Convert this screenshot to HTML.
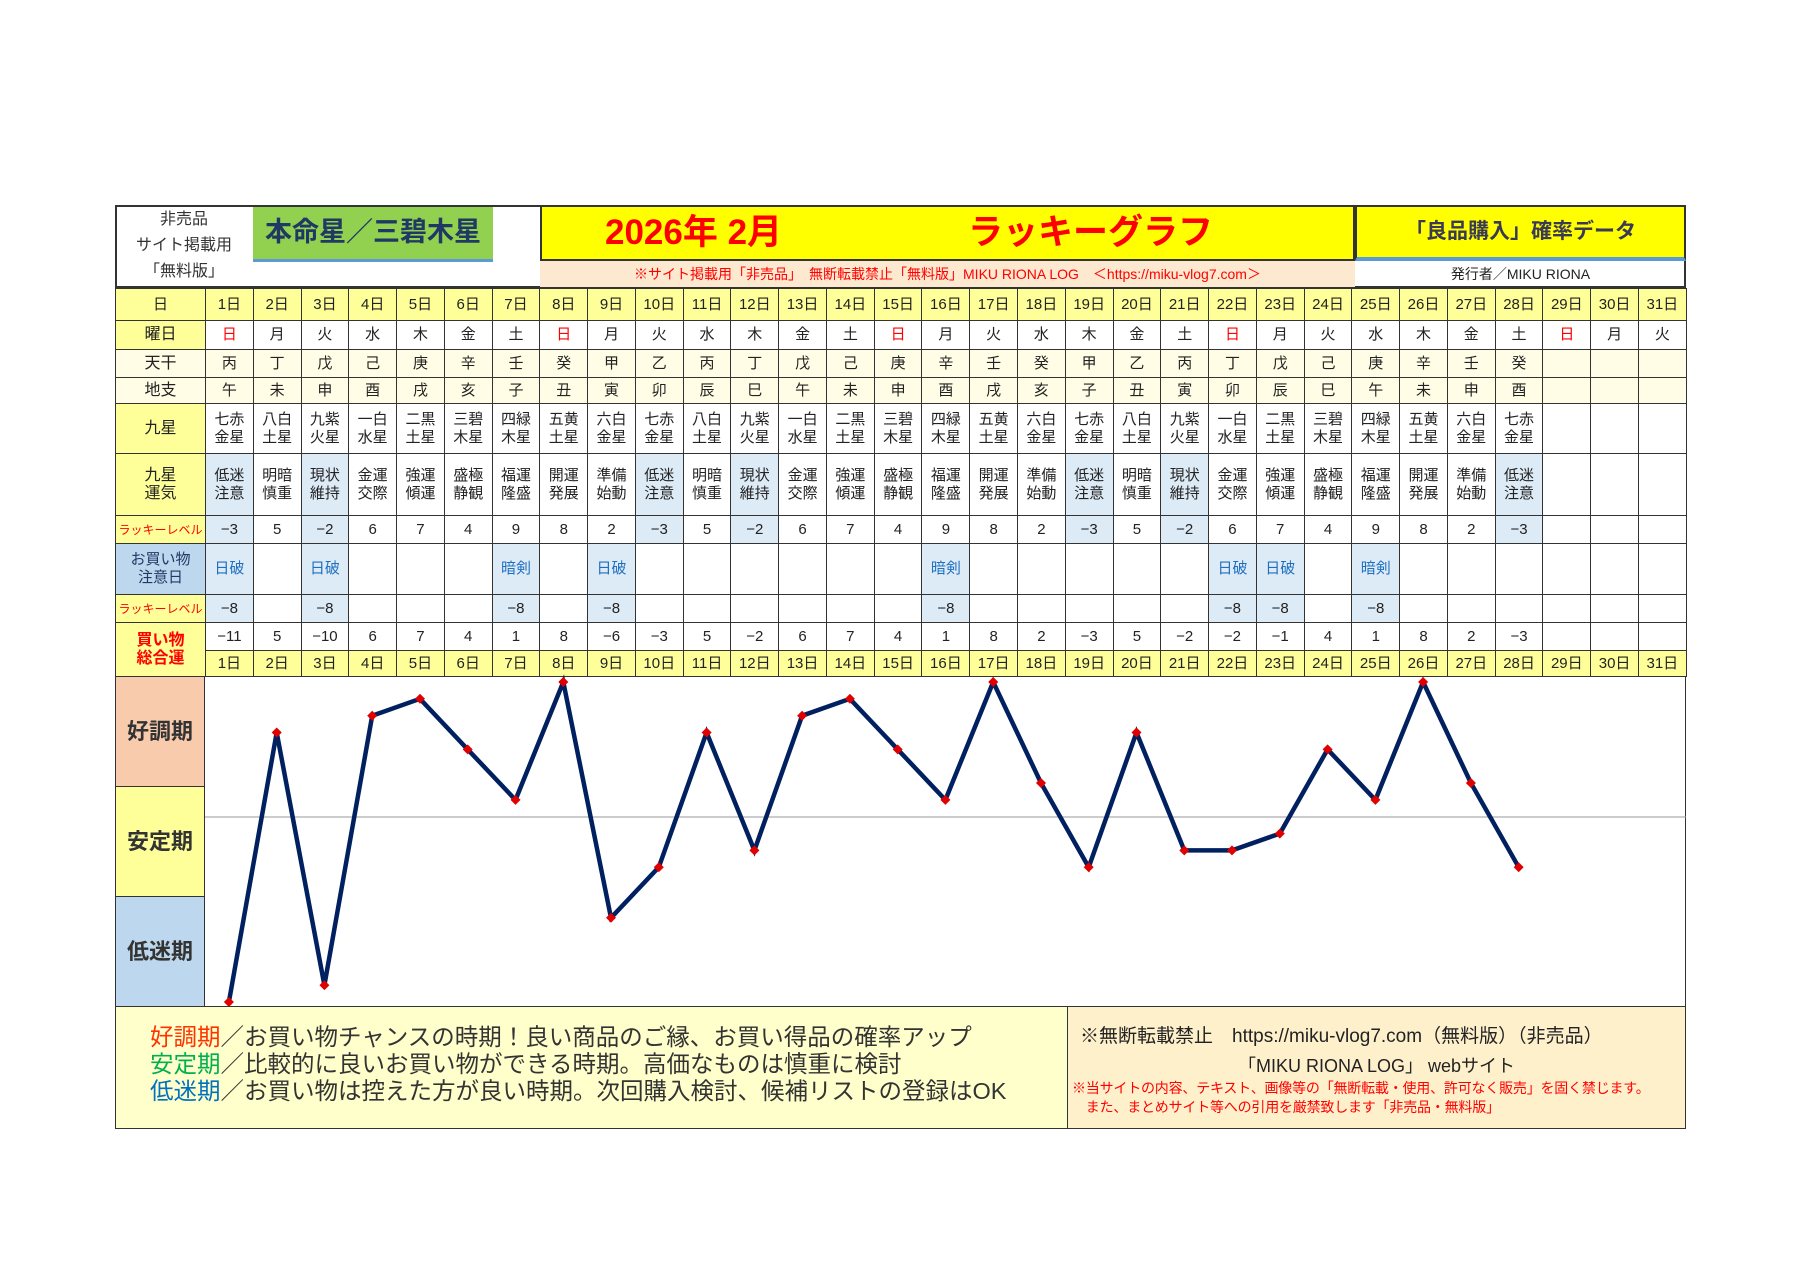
<!DOCTYPE html>
<html><head><meta charset="utf-8"><style>
*{box-sizing:border-box;margin:0;padding:0}
body{width:1800px;height:1272px;background:#fff;position:relative;overflow:hidden;font-family:"Liberation Sans","Noto Sans CJK JP",sans-serif;color:#222}
.a{position:absolute}
table{position:absolute;left:115px;top:288px;width:1571px;border-collapse:collapse;table-layout:fixed}
td{border:1px solid #333;text-align:center;vertical-align:middle;font-size:15px;line-height:18px;padding:0;overflow:hidden;white-space:nowrap}
td.l{background:#ffff99;font-size:16px}
.y td{background:#ffff99}
.y td{font-size:15px}
.p td{background:#fffde6}
td.b{background:#ddebf7}
.r{color:#f00}
.bl{color:#1f6fc0}
td.ll{color:#f00;font-size:12px;background:#ffff99}
</style></head><body>
<!-- header -->
<div class="a" style="left:115px;top:205px;width:1571px;height:83px;border:2px solid #333"></div>
<div class="a" style="left:117px;top:207px;width:134px;text-align:center;font-size:16px;line-height:26px;color:#333">非売品<br>サイト掲載用<br>「無料版」</div>
<div class="a" style="left:253px;top:207px;width:240px;height:55px;background:#92d050;border-bottom:3px solid #5b9bd5;font-size:27px;font-weight:bold;color:#1f3864;text-align:center;line-height:50px">本命星／三碧木星</div>
<div class="a" style="left:540px;top:205px;width:815px;height:56px;background:#ffff00;border:2px solid #333"></div>
<div class="a" style="left:605px;top:208px;font-size:35px;font-weight:bold;color:#f00;line-height:50px">2026年 2月</div>
<div class="a" style="left:968px;top:208px;font-size:35px;font-weight:bold;color:#f00;line-height:50px">ラッキーグラフ</div>
<div class="a" style="left:1355px;top:205px;width:331px;height:56px;background:#ffff00;border:2px solid #333;border-bottom:4px solid #5b9bd5;text-align:center;font-size:21px;font-weight:bold;color:#3a3a55;line-height:50px">「良品購入」確率データ</div>
<div class="a" style="left:540px;top:261px;width:815px;height:26px;background:#fde9d0;color:#f00;font-size:14px;line-height:26px;text-align:center">※サイト掲載用「非売品」　無断転載禁止「無料版」MIKU RIONA LOG　＜https://miku-vlog7.com＞</div>
<div class="a" style="left:1355px;top:261px;width:331px;height:26px;font-size:14px;line-height:26px;text-align:center;color:#222">発行者／MIKU RIONA</div>

<table>
<colgroup><col style="width:90px"><col span="31" style="width:47.77px"></colgroup>
<tr class="y" style="height:32px"><td>日</td><td>1日</td><td>2日</td><td>3日</td><td>4日</td><td>5日</td><td>6日</td><td>7日</td><td>8日</td><td>9日</td><td>10日</td><td>11日</td><td>12日</td><td>13日</td><td>14日</td><td>15日</td><td>16日</td><td>17日</td><td>18日</td><td>19日</td><td>20日</td><td>21日</td><td>22日</td><td>23日</td><td>24日</td><td>25日</td><td>26日</td><td>27日</td><td>28日</td><td>29日</td><td>30日</td><td>31日</td></tr>
<tr style="height:29px"><td class="l">曜日</td><td class="r">日</td><td>月</td><td>火</td><td>水</td><td>木</td><td>金</td><td>土</td><td class="r">日</td><td>月</td><td>火</td><td>水</td><td>木</td><td>金</td><td>土</td><td class="r">日</td><td>月</td><td>火</td><td>水</td><td>木</td><td>金</td><td>土</td><td class="r">日</td><td>月</td><td>火</td><td>水</td><td>木</td><td>金</td><td>土</td><td class="r">日</td><td>月</td><td>火</td></tr>
<tr class="p" style="height:28px"><td class="l">天干</td><td>丙</td><td>丁</td><td>戊</td><td>己</td><td>庚</td><td>辛</td><td>壬</td><td>癸</td><td>甲</td><td>乙</td><td>丙</td><td>丁</td><td>戊</td><td>己</td><td>庚</td><td>辛</td><td>壬</td><td>癸</td><td>甲</td><td>乙</td><td>丙</td><td>丁</td><td>戊</td><td>己</td><td>庚</td><td>辛</td><td>壬</td><td>癸</td><td></td><td></td><td></td></tr>
<tr class="p" style="height:26px"><td class="l">地支</td><td>午</td><td>未</td><td>申</td><td>酉</td><td>戌</td><td>亥</td><td>子</td><td>丑</td><td>寅</td><td>卯</td><td>辰</td><td>巳</td><td>午</td><td>未</td><td>申</td><td>酉</td><td>戌</td><td>亥</td><td>子</td><td>丑</td><td>寅</td><td>卯</td><td>辰</td><td>巳</td><td>午</td><td>未</td><td>申</td><td>酉</td><td></td><td></td><td></td></tr>
<tr style="height:50px"><td class="l">九星</td><td>七赤<br>金星</td><td>八白<br>土星</td><td>九紫<br>火星</td><td>一白<br>水星</td><td>二黒<br>土星</td><td>三碧<br>木星</td><td>四緑<br>木星</td><td>五黄<br>土星</td><td>六白<br>金星</td><td>七赤<br>金星</td><td>八白<br>土星</td><td>九紫<br>火星</td><td>一白<br>水星</td><td>二黒<br>土星</td><td>三碧<br>木星</td><td>四緑<br>木星</td><td>五黄<br>土星</td><td>六白<br>金星</td><td>七赤<br>金星</td><td>八白<br>土星</td><td>九紫<br>火星</td><td>一白<br>水星</td><td>二黒<br>土星</td><td>三碧<br>木星</td><td>四緑<br>木星</td><td>五黄<br>土星</td><td>六白<br>金星</td><td>七赤<br>金星</td><td></td><td></td><td></td></tr>
<tr style="height:62px"><td class="l">九星<br>運気</td><td class="b">低迷<br>注意</td><td>明暗<br>慎重</td><td class="b">現状<br>維持</td><td>金運<br>交際</td><td>強運<br>傾運</td><td>盛極<br>静観</td><td>福運<br>隆盛</td><td>開運<br>発展</td><td>準備<br>始動</td><td class="b">低迷<br>注意</td><td>明暗<br>慎重</td><td class="b">現状<br>維持</td><td>金運<br>交際</td><td>強運<br>傾運</td><td>盛極<br>静観</td><td>福運<br>隆盛</td><td>開運<br>発展</td><td>準備<br>始動</td><td class="b">低迷<br>注意</td><td>明暗<br>慎重</td><td class="b">現状<br>維持</td><td>金運<br>交際</td><td>強運<br>傾運</td><td>盛極<br>静観</td><td>福運<br>隆盛</td><td>開運<br>発展</td><td>準備<br>始動</td><td class="b">低迷<br>注意</td><td></td><td></td><td></td></tr>
<tr style="height:28px"><td class="ll">ラッキーレベル</td><td class="b">−3</td><td>5</td><td class="b">−2</td><td>6</td><td>7</td><td>4</td><td>9</td><td>8</td><td>2</td><td class="b">−3</td><td>5</td><td class="b">−2</td><td>6</td><td>7</td><td>4</td><td>9</td><td>8</td><td>2</td><td class="b">−3</td><td>5</td><td class="b">−2</td><td>6</td><td>7</td><td>4</td><td>9</td><td>8</td><td>2</td><td class="b">−3</td><td></td><td></td><td></td></tr>
<tr style="height:51px"><td style="background:#bdd7ee;color:#1f3864;font-size:15px">お買い物<br>注意日</td><td class="b bl">日破</td><td></td><td class="b bl">日破</td><td></td><td></td><td></td><td class="b bl">暗剣</td><td></td><td class="b bl">日破</td><td></td><td></td><td></td><td></td><td></td><td></td><td class="b bl">暗剣</td><td></td><td></td><td></td><td></td><td></td><td class="b bl">日破</td><td class="b bl">日破</td><td></td><td class="b bl">暗剣</td><td></td><td></td><td></td><td></td><td></td><td></td></tr>
<tr style="height:28px"><td class="ll">ラッキーレベル</td><td class="b">−8</td><td></td><td class="b">−8</td><td></td><td></td><td></td><td class="b">−8</td><td></td><td class="b">−8</td><td></td><td></td><td></td><td></td><td></td><td></td><td class="b">−8</td><td></td><td></td><td></td><td></td><td></td><td class="b">−8</td><td class="b">−8</td><td></td><td class="b">−8</td><td></td><td></td><td></td><td></td><td></td><td></td></tr>
<tr style="height:28px"><td class="l" rowspan="2" style="color:#f00;font-weight:bold">買い物<br>総合運</td><td>−11</td><td>5</td><td>−10</td><td>6</td><td>7</td><td>4</td><td>1</td><td>8</td><td>−6</td><td>−3</td><td>5</td><td>−2</td><td>6</td><td>7</td><td>4</td><td>1</td><td>8</td><td>2</td><td>−3</td><td>5</td><td>−2</td><td>−2</td><td>−1</td><td>4</td><td>1</td><td>8</td><td>2</td><td>−3</td><td></td><td></td><td></td></tr>
<tr class="y" style="height:26px"><td>1日</td><td>2日</td><td>3日</td><td>4日</td><td>5日</td><td>6日</td><td>7日</td><td>8日</td><td>9日</td><td>10日</td><td>11日</td><td>12日</td><td>13日</td><td>14日</td><td>15日</td><td>16日</td><td>17日</td><td>18日</td><td>19日</td><td>20日</td><td>21日</td><td>22日</td><td>23日</td><td>24日</td><td>25日</td><td>26日</td><td>27日</td><td>28日</td><td>29日</td><td>30日</td><td>31日</td></tr>
</table>

<!-- chart -->
<div class="a" style="left:115px;top:676px;width:1571px;height:331px;border:1px solid #333"></div>
<div class="a" style="left:115px;top:676px;width:90px;height:111px;background:#f8cbad;border:1px solid #333;font-size:22px;font-weight:bold;line-height:109px;text-align:center;color:#333">好調期</div>
<div class="a" style="left:115px;top:786px;width:90px;height:111px;background:#ffff99;border:1px solid #333;font-size:22px;font-weight:bold;line-height:109px;text-align:center;color:#333">安定期</div>
<div class="a" style="left:115px;top:896px;width:90px;height:111px;background:#bdd7ee;border:1px solid #333;font-size:22px;font-weight:bold;line-height:109px;text-align:center;color:#333">低迷期</div>
<svg class="a" style="left:0;top:0" width="1800" height="1272">
<defs><marker id="d" markerWidth="10" markerHeight="10" refX="5" refY="5" markerUnits="userSpaceOnUse"><path d="M5 0L10 5L5 10L0 5Z" fill="#e00000"/></marker></defs>
<line x1="205" y1="817" x2="1686" y2="817" stroke="#999" stroke-width="1"/>
<polyline fill="none" stroke="#002060" stroke-width="4.5" stroke-linejoin="miter" marker-start="url(#d)" marker-mid="url(#d)" marker-end="url(#d)" points="228.9,1002 276.7,732.5 324.4,985.2 372.2,715.7 420,698.8 467.7,749.4 515.5,799.9 563.3,682 611,917.8 658.8,867.2 706.6,732.5 754.4,850.4 802.1,715.7 849.9,698.8 897.7,749.4 945.4,799.9 993.2,682 1041,783 1088.7,867.2 1136.5,732.5 1184.3,850.4 1232,850.4 1279.8,833.6 1327.6,749.4 1375.4,799.9 1423.1,682 1470.9,783 1518.7,867.2"/>
</svg>

<!-- footer -->
<div class="a" style="left:115px;top:1006px;width:953px;height:123px;background:#ffffcc;border:1px solid #333"></div>
<div class="a" style="left:150px;top:1024px;font-size:23.5px;line-height:27px;color:#333">
<div><span style="color:#ff3300">好調期</span>／お買い物チャンスの時期！良い商品のご縁、お買い得品の確率アップ</div>
<div><span style="color:#00b050">安定期</span>／比較的に良いお買い物ができる時期。高価なものは慎重に検討</div>
<div><span style="color:#0070c0">低迷期</span>／お買い物は控えた方が良い時期。次回購入検討、候補リストの登録はOK</div>
</div>
<div class="a" style="left:1067px;top:1006px;width:619px;height:123px;background:#fff0cc;border:1px solid #333"></div>
<div class="a" style="left:1080px;top:1024px;font-size:19px;line-height:26px;color:#222">※無断転載禁止　https://miku-vlog7.com（無料版）（非売品）</div>
<div class="a" style="left:1067px;top:1053px;width:619px;text-align:center;font-size:18px;line-height:26px;color:#222">「MIKU RIONA LOG」 webサイト</div>
<div class="a" style="left:1072px;top:1079px;font-size:14px;line-height:19px;color:#f00;letter-spacing:-0.2px">※当サイトの内容、テキスト、画像等の「無断転載・使用、許可なく販売」を固く禁じます。<br>　また、まとめサイト等への引用を厳禁致します「非売品・無料版」</div>
</body></html>
